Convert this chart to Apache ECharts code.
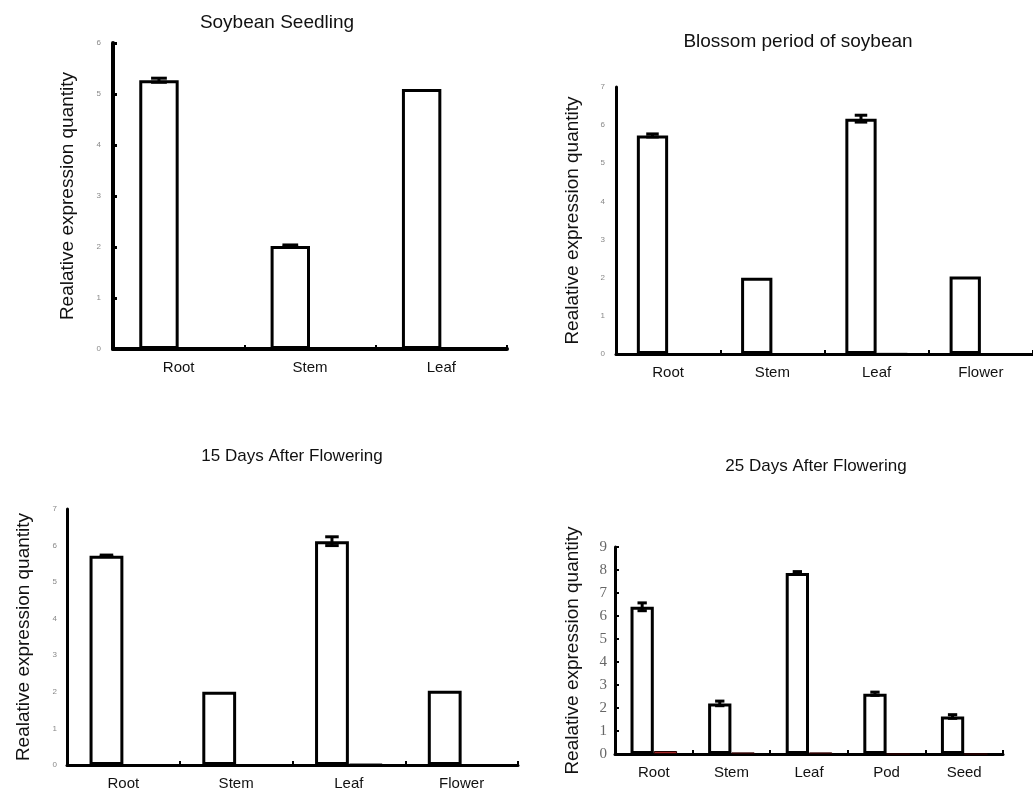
<!DOCTYPE html>
<html>
<head>
<meta charset="utf-8">
<script src="https://cdn.jsdelivr.net/npm/echarts@6/dist/echarts.min.js"></script>
<style>
html,body{margin:0;padding:0;background:#fff;}
#main{width:1033px;height:791px;}
</style>
</head>
<body>
<div id="main"></div>
<script>
// ---- data ----
const titles = ['Soybean Seedling', 'Blossom period of soybean', '15 Days After Flowering', '25 Days After Flowering'];
const yName = 'Realative expression quantity';

const cat1 = ['Root', 'Stem', 'Leaf'];
const val1 = [5.27, 2.02, 5.10];
const err1 = [0.04, 0.02, 0];
const sec1 = [0, 0, 0];

const cat2 = ['Root', 'Stem', 'Leaf', 'Flower'];
const val2 = [5.73, 2.00, 6.17, 2.03];
const err2 = [0.04, 0, 0.09, 0];
const sec2 = [0, 0, 0.03, 0];

const cat3 = ['Root', 'Stem', 'Leaf', 'Flower'];
const val3 = [5.72, 2.00, 6.12, 2.03];
const err3 = [0.02, 0, 0.12, 0];
const sec3 = [0, 0, 0.04, 0];

const cat4 = ['Root', 'Stem', 'Leaf', 'Pod', 'Seed'];
const val4 = [6.40, 2.20, 7.87, 2.62, 1.63];
const err4 = [0.17, 0.10, 0.06, 0.07, 0.08];
const sec4 = [0.13, 0.07, 0.07, 0, 0];

const yMax = [6, 7, 7, 9];

// ---- layout / styles ----
const FONT = "'Liberation Sans', Arial, sans-serif";
const panels = [
  {cat: cat1, val: val1, err: err1, sec: sec1, grid: {left: 113, top: 43, width: 394, height: 306},
   axisW: 4, yTick: {show: true, inside: true, length: 4, lineStyle: {width: 3, color: '#000'}},
   yLab: {fontSize: 8, color: '#888', margin: 12, fontFamily: FONT}, nameGap: 36,
   title: {x: 277, y: 23, size: 19}, secColor: '#000', secBorder: '#000'},
  {cat: cat2, val: val2, err: err2, sec: sec2, grid: {left: 616, top: 87, width: 424, height: 267},
   axisW: 3, yTick: {show: false},
   yLab: {fontSize: 8, color: '#888', margin: 11, fontFamily: FONT}, nameGap: 34,
   title: {x: 798, y: 42, size: 19}, secColor: '#111', secBorder: '#000'},
  {cat: cat3, val: val3, err: err3, sec: sec3, grid: {left: 67, top: 509, width: 451, height: 258},
   axisW: 3, yTick: {show: false},
   yLab: {fontSize: 8, color: '#888', margin: 10, fontFamily: FONT}, nameGap: 34,
   title: {x: 292, y: 456, size: 17}, secColor: '#111', secBorder: '#000'},
  {cat: cat4, val: val4, err: err4, sec: sec4, grid: {left: 615, top: 547, width: 388, height: 207},
   axisW: 3, yTick: {show: true, inside: true, length: 4, lineStyle: {width: 2, color: '#000'}},
   yLab: {fontSize: 15, color: '#666', margin: 8, fontFamily: "'Liberation Serif', 'Times New Roman', serif"}, nameGap: 33,
   title: {x: 816, y: 466, size: 17}, secColor: '#a82a2a', secBorder: '#2a0000'}
];

const grid = [], xAxis = [], yAxis = [], series = [], graphic = [];

panels.forEach(function (p, k) {
  grid.push(Object.assign({containLabel: false}, p.grid));
  xAxis.push({
    type: 'category', gridIndex: k, data: p.cat, boundaryGap: true,
    axisLine: {show: true, lineStyle: {color: '#000', width: p.axisW}},
    axisTick: {show: true, inside: true, length: 4, lineStyle: {color: '#000', width: 2}},
    axisLabel: {fontSize: 15, color: '#111', margin: 11, fontFamily: FONT},
    splitLine: {show: false}
  });
  yAxis.push({
    type: 'value', gridIndex: k, min: 0, max: yMax[k], interval: 1,
    name: yName, nameLocation: 'middle', nameGap: p.nameGap, nameRotate: 90,
    nameTextStyle: {fontSize: 19, color: '#111', fontFamily: FONT},
    axisLine: {show: true, lineStyle: {color: '#000', width: p.axisW}},
    axisTick: p.yTick,
    axisLabel: p.yLab,
    splitLine: {show: false}
  });
  series.push({
    type: 'bar', xAxisIndex: k, yAxisIndex: k, data: p.val,
    barWidth: '30%', barGap: '0%',
    itemStyle: {color: '#fff', borderColor: '#000', borderWidth: 3},
    silent: true, z: 3
  });
  series.push({
    type: 'bar', xAxisIndex: k, yAxisIndex: k, data: p.sec,
    barWidth: '30%', barGap: '0%',
    itemStyle: {color: p.secColor, borderColor: p.secBorder, borderWidth: 1},
    silent: true, z: 3
  });
  const errData = p.val.map(function (v, i) { return [i, v, p.err[i]]; }).filter(function (d) { return d[2] > 0; });
  series.push({
    type: 'custom', xAxisIndex: k, yAxisIndex: k, data: errData, z: 5, silent: true,
    encode: {x: 0, y: 1},
    renderItem: function (params, api) {
      const i = api.value(0), v = api.value(1), e = api.value(2);
      const band = api.size([1, 0])[0];
      const x = api.coord([i, v])[0] - band * 0.15;
      const yt = api.coord([i, v + e])[1];
      const yb = api.coord([i, v - e])[1];
      const hw = band * 0.3 * 0.2;
      const st = {stroke: '#000', lineWidth: 3, fill: null};
      return {
        type: 'group',
        children: [
          {type: 'line', shape: {x1: x, y1: yt, x2: x, y2: yb}, style: st},
          {type: 'line', shape: {x1: x - hw, y1: yt, x2: x + hw, y2: yt}, style: st},
          {type: 'line', shape: {x1: x - hw, y1: yb, x2: x + hw, y2: yb}, style: st}
        ]
      };
    }
  });
  graphic.push({
    type: 'text', x: p.title.x, y: p.title.y,
    style: {text: titles[k], fill: '#111', font: p.title.size + 'px ' + FONT, textAlign: 'center', textVerticalAlign: 'middle'}
  });
});

const chart = echarts.init(document.getElementById('main'), null, {renderer: 'canvas'});
chart.setOption({
  animation: false,
  backgroundColor: '#fff',
  grid: grid, xAxis: xAxis, yAxis: yAxis, series: series, graphic: graphic
});
</script>
</body>
</html>
